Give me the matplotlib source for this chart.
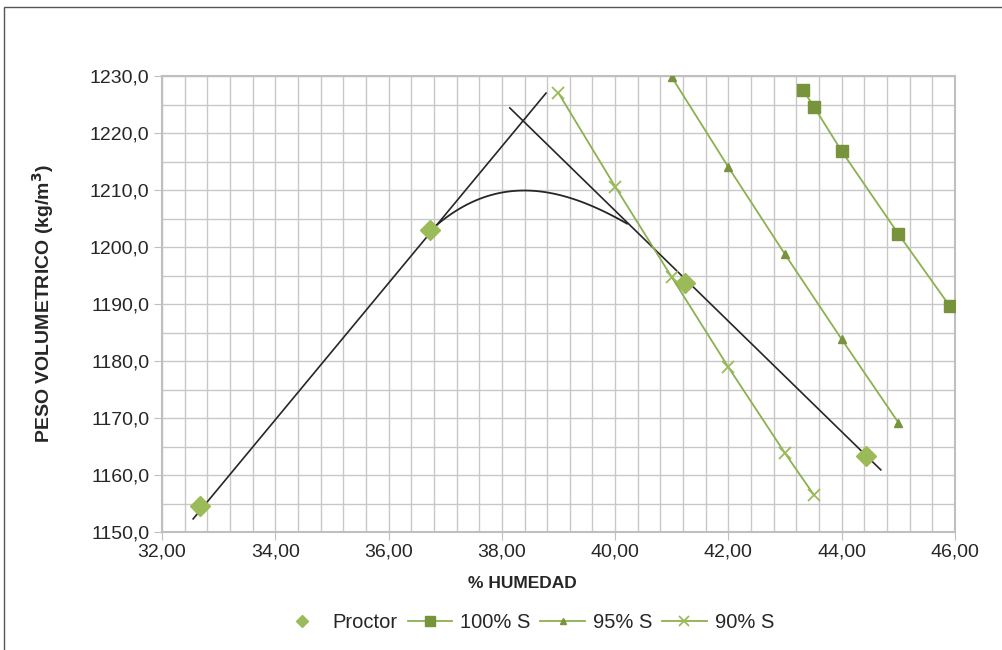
import numpy as np
import matplotlib
matplotlib.use("Agg")
import matplotlib.pyplot as plt
from matplotlib.ticker import MultipleLocator, FuncFormatter

plt.rcParams['font.family'] = ['Liberation Sans', 'DejaVu Sans']

# Proctor test points
proctor_x = [32.67, 36.73, 41.23, 44.43]
proctor_y = [1154.5, 1202.9, 1193.6, 1163.3]

# saturation lines
s100_x = [43.32, 43.51, 44.00, 45.00, 45.91]
s100_y = [1227.5, 1224.6, 1216.8, 1202.3, 1189.6]
s95_x = [41.00, 42.00, 43.00, 44.00, 45.00]
s95_y = [1229.8, 1214.0, 1198.7, 1183.8, 1169.2]
s90_x = [39.00, 40.00, 41.00, 42.00, 43.00, 43.51]
s90_y = [1227.0, 1210.6, 1194.7, 1178.9, 1163.8, 1156.5]

# compaction curve
curve_x = [36.73, 37.14, 37.73, 38.44, 38.91, 39.50, 40.09, 40.21]
curve_y = [1202.9, 1205.9, 1208.8, 1210.1, 1209.4, 1207.4, 1204.7, 1204.2]

# tangent lines (dry and wet side)
dry_x = [32.55, 38.78]
dry_y = [1152.3, 1227.0]
wet_x = [38.14, 44.69]
wet_y = [1224.4, 1160.9]

green_dark = '#77933c'
green_line = '#8db050'
green_light = '#9bbb59'
txt = '#262626'

fig = plt.figure(figsize=(10.03, 6.5), dpi=100)
ax = fig.add_axes([162/1003, 118/650, 793/1003, 456/650])

# outer chart border
fig.patches.append(plt.Rectangle((4/1003, -0.01), 1.0, 1 - 7/650 + 0.01,
                                 transform=fig.transFigure, fill=False,
                                 edgecolor='#555555', linewidth=1.0))

# smooth trendline through the curve readings
coef = np.polyfit(curve_x, curve_y, 3)
xs = np.linspace(curve_x[0], curve_x[-1], 60)
ax.plot(xs, np.polyval(coef, xs), color=txt, lw=1.3, zorder=3)
ax.plot(dry_x, dry_y, color=txt, lw=1.2, zorder=3)
ax.plot(wet_x, wet_y, color=txt, lw=1.2, zorder=3)

ax.plot(proctor_x, proctor_y, linestyle='none', marker='D', ms=10,
        color=green_light, mec=green_light, label='Proctor', zorder=4)
ax.plot(s100_x, s100_y, color=green_line, lw=1.3, marker='s', ms=8.5,
        mfc=green_dark, mec=green_dark, label='100% S', zorder=4)
ax.plot(s95_x, s95_y, color=green_line, lw=1.3, marker='^', ms=6,
        mfc=green_dark, mec=green_dark, label='95% S', zorder=4)
ax.plot(s90_x, s90_y, color=green_line, lw=1.3, marker='x', ms=9, mew=1.3,
        mec=green_light, label='90% S', zorder=4)

ax.set_xlim(32, 46)
ax.set_ylim(1150, 1230)
ax.xaxis.set_major_locator(MultipleLocator(2))
ax.xaxis.set_minor_locator(MultipleLocator(0.4))
ax.yaxis.set_major_locator(MultipleLocator(10))
ax.yaxis.set_minor_locator(MultipleLocator(5))
ax.xaxis.set_major_formatter(FuncFormatter(lambda v, p: f"{v:.2f}".replace('.', ',')))
ax.yaxis.set_major_formatter(FuncFormatter(lambda v, p: f"{v:.1f}".replace('.', ',')))

ax.grid(which='both', color='#c8c8c8', linewidth=1.0, zorder=0)
ax.set_axisbelow(True)
for s in ax.spines.values():
    s.set_color('#bfbfbf')
    s.set_linewidth(1.5)
ax.tick_params(which='major', length=6, color='#bfbfbf', labelsize=14,
               labelcolor=txt)
ax.tick_params(which='minor', length=0)
ax.tick_params(axis='x', pad=2)
ax.tick_params(axis='y', pad=3)

ax.set_xlabel('% HUMEDAD', fontsize=12.5, fontweight='bold', color=txt)
ax.xaxis.set_label_coords((522 - 162) / 793, -(583 - 532) / 456)
ax.xaxis.label.set_va('center')
ax.set_ylabel('PESO VOLUMETRICO (kg/m$^\\mathbf{3}$)', fontsize=14,
              fontweight='bold', color=txt)
ax.yaxis.set_label_coords(-(162 - 43) / 793, 0.5)
ax.yaxis.label.set_va('center')

leg = fig.legend(loc='center', bbox_to_anchor=(527/1003, 1 - 623/650), ncol=4,
                 frameon=False, fontsize=14.5, handlelength=2.2,
                 columnspacing=0.5, handletextpad=0.4, markerscale=0.8)
leg.legend_handles[0].set_markersize(6)
for t in leg.get_texts():
    t.set_color(txt)

fig.savefig('out.png', dpi=100)
